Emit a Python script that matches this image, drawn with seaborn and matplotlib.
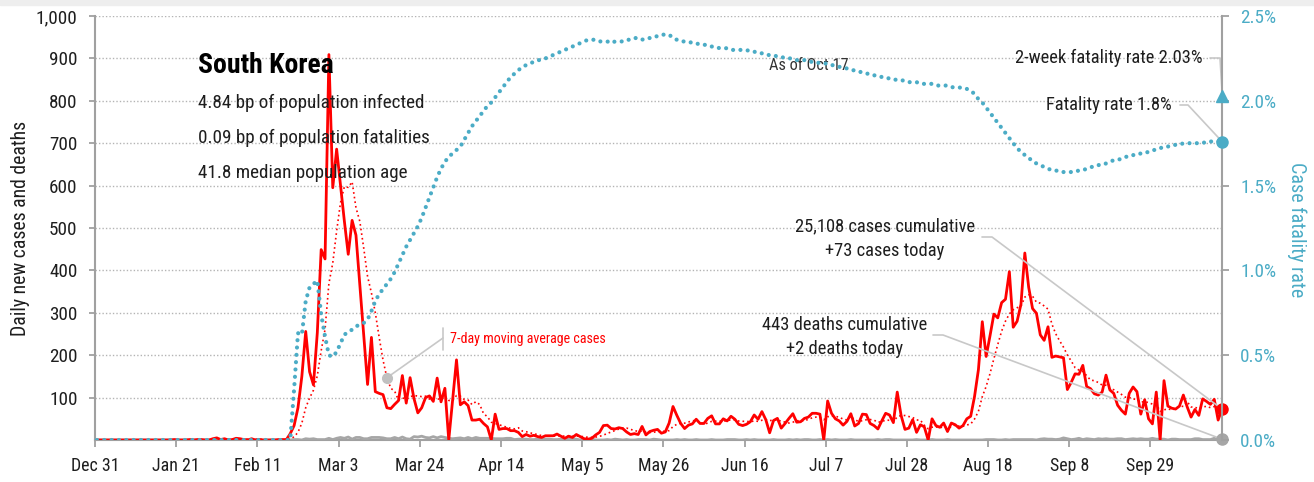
import numpy as np
import pandas as pd
import matplotlib
matplotlib.use("Agg")
import matplotlib.pyplot as plt
import matplotlib.dates as mdates
from matplotlib import font_manager
from matplotlib.ticker import FuncFormatter, FixedLocator
from matplotlib.patches import Rectangle
import seaborn as sns

# ---------------- data ----------------
start_date = "2019-12-31"

cases_dec = [0]
cases_jan = [0, 0, 0, 0, 0, 0, 0, 0, 0, 0, 0, 0, 0, 0, 0, 0, 0, 0, 0,
             1, 0, 0, 0, 1, 0, 1, 1, 0, 0, 3, 5]
cases_feb = [1, 3, 0, 1, 4, 3, 1, 0, 3, 0, 1, 0, 0, 0, 0, 1, 1, 1, 15, 34,
             76, 150, 256, 161, 130, 253, 449, 427, 909]
cases_mar = [595, 686, 600, 516, 438, 518, 483, 367, 248, 131, 242, 114, 110, 107, 76, 74,
             84, 93, 152, 87, 147, 98, 64, 76, 100, 104, 91, 146, 90, 122, 0]
cases_apr = [95, 189, 83, 90, 81, 47, 47, 49, 39, 31, 0, 61, 25, 27, 27, 22, 22, 18, 8, 13,
             9, 11, 8, 6, 10, 10, 10, 14, 9, 4]
cases_may = [9, 6, 13, 8, 3, 2, 4, 12, 18, 34, 35, 27, 26, 29, 27, 19, 13, 15, 13, 32,
             12, 20, 23, 25, 16, 19, 40, 79, 58, 39, 27]
cases_jun = [35, 38, 49, 39, 39, 51, 57, 38, 38, 50, 45, 56, 49, 37, 34, 37, 43, 59, 49, 67,
             48, 17, 46, 51, 28, 39, 51, 62, 42, 43]
cases_jul = [51, 54, 63, 63, 61, 0, 92, 63, 50, 45, 35, 44, 62, 33, 39, 61, 60, 39, 34, 26,
             45, 63, 59, 41, 113, 58, 25, 28, 48, 18, 36]
cases_aug = [31, 0, 50, 34, 30, 40, 20, 40, 36, 28, 34, 50, 56, 103, 166, 279, 197, 246, 297, 288,
             324, 332, 397, 266, 280, 320, 441, 360, 310, 299, 248]
cases_sep = [235, 267, 195, 198, 196, 194, 119, 136, 156, 155, 176, 126, 121, 109, 106, 113, 153, 118, 110, 82,
             70, 61, 110, 125, 114, 61, 95, 50, 38, 113]
cases_oct = [0, 140, 80, 75, 73, 80, 106, 78, 54, 72, 58, 97, 91, 84, 96, 47, 73]

deaths_dec = [0]
deaths_jan = [0] * 31
deaths_feb = [0, 0, 0, 0, 0, 0, 0, 0, 0, 0, 0, 0, 0, 0, 0, 0, 0, 0, 0,
              1, 1, 0, 3, 2, 3, 1, 1, 1, 4]
deaths_mar = [1, 4, 6, 4, 7, 2, 6, 6, 3, 3, 6, 6, 6, 5, 3, 3, 6, 3, 7, 3,
              2, 8, 7, 9, 6, 5, 8, 5, 8, 6, 4]
deaths_apr = [3, 4, 5, 3, 6, 3, 6, 4, 4, 4, 4, 3, 3, 3, 4, 4, 1, 2, 2, 2,
              1, 1, 2, 2, 2, 2, 1, 1, 2, 1]
deaths_may = [2, 2, 2, 0, 2, 1, 2, 0, 0, 0, 1, 0, 2, 1, 0, 1, 0, 0, 1, 1,
              1, 0, 2, 1, 0, 0, 0, 0, 1, 0, 1]
deaths_jun = [0, 0, 1, 0, 0, 0, 1, 0, 0, 0, 1, 1, 1, 0, 0, 1, 0, 1, 0, 0,
              0, 0, 1, 0, 0, 0, 1, 0, 1, 0]
deaths_jul = [1, 1, 0, 0, 1, 0, 1, 0, 1, 0, 0, 0, 1, 0, 0, 0, 0, 0, 0, 1,
              0, 1, 1, 0, 0, 0, 0, 0, 0, 1, 0]
deaths_aug = [0, 0, 1, 0, 0, 0, 1, 0, 0, 0, 0, 0, 0, 0, 0, 0, 1, 1, 1, 0,
              0, 1, 0, 1, 1, 1, 1, 1, 1, 0, 2]
deaths_sep = [3, 2, 2, 1, 2, 5, 3, 1, 2, 4, 1, 3, 2, 1, 3, 2, 3, 2, 2, 3,
              3, 1, 2, 3, 2, 3, 2, 2, 4, 2]
deaths_oct = [2, 2, 0, 2, 2, 1, 1, 1, 1, 3, 3, 1, 1, 1, 4, 1, 2]

# case fatality rate, percent (right axis)
cfr_dec = [0.0]
cfr_jan = [0.0] * 31
cfr_feb = [0.0] * 19 + [0.30, 0.63, 0.62, 0.82, 0.90, 0.92, 0.94, 0.74, 0.61, 0.50]
cfr_mar = [0.49, 0.52, 0.57, 0.62, 0.64, 0.65, 0.67, 0.68, 0.69, 0.71,
           0.76, 0.82, 0.86, 0.89, 0.92, 0.95, 0.99, 1.04, 1.09, 1.14,
           1.18, 1.22, 1.26, 1.31, 1.37, 1.43, 1.49, 1.55, 1.60, 1.64, 1.67]
cfr_apr = [1.69, 1.71, 1.73, 1.77, 1.81, 1.85, 1.88, 1.91, 1.94, 1.97,
           1.99, 2.02, 2.05, 2.08, 2.11, 2.14, 2.16, 2.18, 2.20, 2.21,
           2.22, 2.23, 2.24, 2.24, 2.25, 2.26, 2.27, 2.28, 2.29, 2.30]
cfr_may = [2.31, 2.32, 2.33, 2.34, 2.35, 2.36, 2.36, 2.36, 2.35, 2.35,
           2.35, 2.34, 2.35, 2.35, 2.35, 2.36, 2.36, 2.37, 2.37, 2.36,
           2.37, 2.37, 2.38, 2.38, 2.39, 2.39, 2.39, 2.37, 2.36, 2.35, 2.35]
cfr_jun = [2.35, 2.34, 2.34, 2.33, 2.33, 2.33, 2.32, 2.32, 2.31, 2.31,
           2.31, 2.30, 2.30, 2.30, 2.30, 2.30, 2.29, 2.29, 2.28, 2.28,
           2.27, 2.27, 2.27, 2.26, 2.26, 2.25, 2.25, 2.25, 2.24, 2.24]
cfr_jul = [2.24, 2.23, 2.23, 2.23, 2.22, 2.22, 2.22, 2.21, 2.21, 2.20,
           2.20, 2.19, 2.18, 2.18, 2.17, 2.17, 2.16, 2.16, 2.15, 2.15,
           2.14, 2.14, 2.13, 2.13, 2.12, 2.12, 2.12, 2.11, 2.11, 2.11, 2.10]
cfr_aug = [2.10, 2.10, 2.10, 2.09, 2.09, 2.09, 2.09, 2.08, 2.08, 2.08,
           2.07, 2.07, 2.06, 2.04, 2.01, 1.99, 1.96, 1.93, 1.90, 1.87,
           1.84, 1.81, 1.78, 1.75, 1.72, 1.70, 1.68, 1.66, 1.65, 1.63, 1.62]
cfr_sep = [1.61, 1.60, 1.59, 1.59, 1.58, 1.58, 1.58, 1.58, 1.58, 1.59,
           1.59, 1.60, 1.61, 1.61, 1.62, 1.63, 1.63, 1.64, 1.65, 1.65,
           1.66, 1.67, 1.67, 1.68, 1.68, 1.69, 1.69, 1.70, 1.71, 1.71]
cfr_oct = [1.72, 1.73, 1.73, 1.74, 1.74, 1.74, 1.75, 1.75, 1.75, 1.75,
           1.75, 1.75, 1.76, 1.76, 1.76, 1.76, 1.76]

two_week_cfr = 2.03
left_ticks = [100, 200, 300, 400, 500, 600, 700, 800, 900, 1000]
right_ticks = [0.0, 0.5, 1.0, 1.5, 2.0, 2.5]
x_tick_labels = ["Dec 31", "Jan 21", "Feb 11", "Mar 3", "Mar 24", "Apr 14", "May 5",
                 "May 26", "Jun 16", "Jul 7", "Jul 28", "Aug 18", "Sep 8", "Sep 29"]

country = "South Korea"
stat_lines = ["4.84 bp of population infected",
              "0.09 bp of population fatalities",
              "41.8 median population age"]
cases_note = ["25,108 cases cumulative", "+73 cases today"]
deaths_note = ["443 deaths cumulative", "+2 deaths today"]

def build(parts):
    out = []
    for p in parts:
        out.extend(p)
    return out

cases = build([cases_dec, cases_jan, cases_feb, cases_mar, cases_apr, cases_may,
               cases_jun, cases_jul, cases_aug, cases_sep, cases_oct])
deaths = build([deaths_dec, deaths_jan, deaths_feb, deaths_mar, deaths_apr, deaths_may,
                deaths_jun, deaths_jul, deaths_aug, deaths_sep, deaths_oct])
cfr = build([cfr_dec, cfr_jan, cfr_feb, cfr_mar, cfr_apr, cfr_may,
             cfr_jun, cfr_jul, cfr_aug, cfr_sep, cfr_oct])

# each daily value is drawn at the middle of its day
half_day = pd.Timedelta(hours=12)
df_cases = pd.DataFrame({"date": pd.date_range(start_date, periods=len(cases)) + half_day,
                         "cases": cases})
df_cases["ma7"] = df_cases["cases"].rolling(7, min_periods=1).mean()
df_deaths = pd.DataFrame({"date": pd.date_range(start_date, periods=len(deaths)) + half_day,
                          "deaths": deaths})
df_cfr = pd.DataFrame({"date": pd.date_range(start_date, periods=len(cfr)) + half_day,
                       "cfr": cfr})

# ---------------- style ----------------
sns.set_theme(style="white")
names = {f.name for f in font_manager.fontManager.ttflist}
candidates = [("Roboto Condensed", 0.88), ("Liberation Sans Narrow", 0.82),
              ("Open Sans Condensed", 0.85), ("Noto Sans Condensed", 0.88),
              ("DejaVu Sans Condensed", 0.98), ("Roboto", 1.0), ("Liberation Sans", 1.0)]
FONT, WF = "DejaVu Sans", 1.1
for fam, wf in candidates:
    if fam in names:
        FONT, WF = fam, wf
        break
K = 0.84 / WF * 0.93
plt.rcParams["font.family"] = [FONT, "DejaVu Sans"]

def fs(v):
    return v * K

RED = "#ff0000"
BLUE = "#4BACC6"
GRAY = "#a6a6a6"
AXIS = "#a0a0a0"
TXT = "#1e1e1e"
LEAD = "#c8c8c8"

W, H = 1314, 482
fig = plt.figure(figsize=(W / 100, H / 100), dpi=100)
L, R, T, B = 95, 1222, 16, 440
ax = fig.add_axes([L / W, 1 - B / H, (R - L) / W, (B - T) / H])
ax2 = ax.twinx()

fig.patches.append(Rectangle((0, 1 - 5 / H), 1, 5 / H, transform=fig.transFigure,
                             color="#eeeeee", zorder=0))

# deaths + cases on left axis
sns.lineplot(data=df_deaths, x="date", y="deaths", ax=ax, color=GRAY, lw=2.0,
             estimator=None, zorder=3)
sns.lineplot(data=df_cases, x="date", y="ma7", ax=ax, color=RED, lw=1.2,
             linestyle=(0, (1, 1.8)), estimator=None, zorder=4)
sns.lineplot(data=df_cases, x="date", y="cases", ax=ax, color=RED, lw=2.0,
             estimator=None, zorder=5)

# fatality rate on right axis
sns.lineplot(data=df_cfr, x="date", y="cfr", ax=ax2, color=BLUE, lw=3.0,
             linestyle=(0, (0.01, 1.75)), dash_capstyle="round", estimator=None)

last_date = df_cases["date"].iloc[-1]
xlast = mdates.date2num(last_date)
ax.plot([last_date], [cases[-1]], "o", color=RED, ms=8, clip_on=False, zorder=7)
ax.plot([last_date], [deaths[-1]], "o", color=GRAY, ms=8, clip_on=False, zorder=7)
ax2.plot([last_date], [cfr[-1]], "o", color=BLUE, ms=8, clip_on=False, zorder=7)
ax2.plot([last_date], [two_week_cfr], "^", color=BLUE, ms=8, clip_on=False, zorder=7)

# ---------------- axes ----------------
first_date = pd.Timestamp(start_date)
ax.set_xlim(first_date, last_date)
ax.set_ylim(0, 1000)
ax2.set_ylim(0, 2.5)

tick_dates = [first_date + pd.Timedelta(days=21 * i) for i in range(len(x_tick_labels))]
ax.xaxis.set_major_locator(FixedLocator(mdates.date2num(tick_dates)))
ax.set_xticklabels(x_tick_labels)
ax.set_yticks(left_ticks)
ax.yaxis.set_major_formatter(FuncFormatter(lambda v, p: f"{int(v):,}"))
ax2.set_yticks(right_ticks)
ax2.yaxis.set_major_formatter(FuncFormatter(lambda v, p: f"{v:.1f}%"))

ax.grid(axis="y", color="#b4b4b4", linestyle=(0, (1, 1.5)), lw=1.0)
ax.grid(axis="x", visible=False)
ax2.grid(False)
ax.set_xlabel("")
ax.set_ylabel("")
ax2.set_ylabel("")

for a in (ax, ax2):
    a.spines["top"].set_visible(False)
ax.spines["right"].set_visible(False)
ax.spines["left"].set_color(AXIS)
ax.spines["bottom"].set_color(AXIS)
ax.spines["left"].set_linewidth(1.5)
ax.spines["bottom"].set_linewidth(1.5)
ax2.spines["left"].set_visible(False)
ax2.spines["bottom"].set_visible(False)
ax2.spines["right"].set_color(AXIS)
ax2.spines["right"].set_linewidth(1.5)

ax.tick_params(axis="x", direction="out", length=5, width=1.3, color=AXIS,
               labelsize=fs(14.5), labelcolor=TXT, pad=7, bottom=True)
ax.tick_params(axis="y", direction="out", length=4.5, width=1.3, color=AXIS,
               labelsize=fs(15.5), labelcolor=TXT, pad=8, left=True)
ax2.tick_params(axis="y", direction="out", length=5, width=1.3, color=AXIS,
                labelsize=fs(15.5), labelcolor=BLUE, pad=8, right=True)

fig.text(20.5 / W, 1 - 228.5 / H, "Daily new cases and deaths", rotation=90,
         ha="center", va="center", fontsize=fs(16), color=TXT)
fig.text(1296.5 / W, 1 - 230 / H, "Case fatality rate", rotation=270,
         ha="center", va="center", fontsize=fs(16.3), color=BLUE)

# ---------------- annotations ----------------
def fx(px):
    return (px - L) / (R - L)

def fy(py):
    return (B - py) / (B - T)

tA = ax.transAxes
ax.text(fx(198), fy(73), country, transform=tA, fontsize=fs(22.5), color="black",
        fontweight="bold", ha="left", va="baseline", zorder=8)
for i, s in enumerate(stat_lines):
    ax.text(fx(198), fy(108 + 35 * i), s, transform=tA, fontsize=fs(15.5), color=TXT,
            ha="left", va="baseline", zorder=8)

ax.text(fx(809), fy(65), "As of Oct 17", transform=tA, fontsize=fs(13.2), color="#333333",
        ha="center", va="center", zorder=8)

NOTE = fs(15)
ax.text(fx(885), fy(226), cases_note[0], transform=tA, fontsize=NOTE, color=TXT,
        ha="center", va="center", zorder=8)
ax.text(fx(885), fy(251), cases_note[1], transform=tA, fontsize=NOTE, color=TXT,
        ha="center", va="center", zorder=8)
ax.text(fx(845), fy(325), deaths_note[0], transform=tA, fontsize=NOTE, color=TXT,
        ha="center", va="center", zorder=8)
ax.text(fx(845), fy(349), deaths_note[1], transform=tA, fontsize=NOTE, color=TXT,
        ha="center", va="center", zorder=8)
ax.text(fx(1203), fy(58), f"2-week fatality rate {two_week_cfr:.2f}%", transform=tA,
        fontsize=NOTE, color=TXT, ha="right", va="center", zorder=8)
ax.text(fx(1172), fy(105), f"Fatality rate {cfr[-1]:.1f}%", transform=tA,
        fontsize=NOTE, color=TXT, ha="right", va="center", zorder=8)
ax.text(fx(450), fy(339), "7-day moving average cases", transform=tA,
        fontsize=fs(11.4), color=RED, ha="left", va="center", zorder=8)

def data_to_axes(a, x, y):
    disp = a.transData.transform((x, y))
    return ax.transAxes.inverted().transform(disp)

def leader(pts):
    xs = [p[0] for p in pts]
    ys = [p[1] for p in pts]
    ax.plot(xs, ys, color=LEAD, lw=1.2, transform=tA, clip_on=False, zorder=6)

leader([(fx(1210), fy(58)), (fx(1220), fy(58)),
        tuple(data_to_axes(ax2, xlast, two_week_cfr + 0.03))])
leader([(fx(1180), fy(105)), (fx(1188), fy(105)),
        tuple(data_to_axes(ax2, xlast, cfr[-1]))])
leader([(fx(982), fy(237)), (fx(992), fy(237)),
        tuple(data_to_axes(ax, xlast, cases[-1]))])
leader([(fx(933), fy(335)), (fx(943), fy(335)),
        tuple(data_to_axes(ax, xlast, deaths[-1]))])

ma_idx = 75
ma_date = mdates.date2num(df_cases["date"].iloc[ma_idx])
ma_val = df_cases["ma7"].iloc[ma_idx]
ma_pt = data_to_axes(ax, ma_date, ma_val)
leader([tuple(ma_pt), (fx(443), fy(338))])
leader([(fx(443), fy(328)), (fx(443), fy(350))])
ax.plot([ma_pt[0]], [ma_pt[1]], "o", color="#c0c0c0", ms=7, transform=tA, zorder=6)

fig.savefig("out.png", dpi=100, facecolor="white")
